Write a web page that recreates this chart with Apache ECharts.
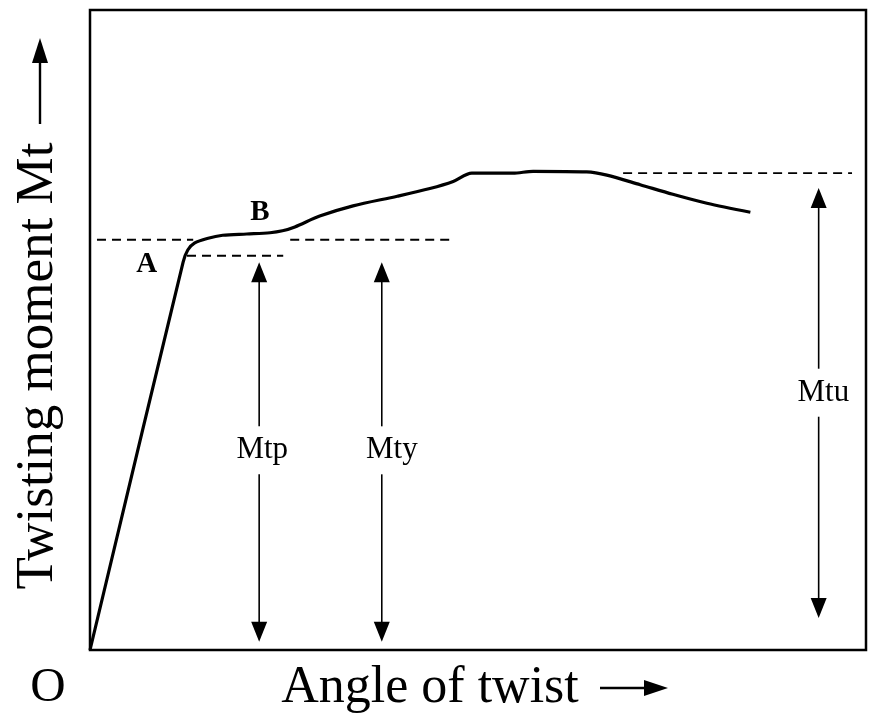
<!DOCTYPE html>
<html>
<head>
<meta charset="utf-8">
<title>Twisting moment vs angle of twist</title>
<script src="https://cdn.jsdelivr.net/npm/echarts@6/dist/echarts.min.js"></script>
<style>
  html, body { margin: 0; padding: 0; background: #fff; }
  #chart { width: 870px; height: 719px; }
</style>
</head>
<body>
<div id="chart"></div>
<script>
// Torsion test curve: angle of twist (relative units, 0-100) vs twisting moment (0-100)
const angleOfTwist = [0, 12.0, 12.6, 13.5, 15.1, 17.1, 20.2, 23.2, 24.8, 26.4, 29.6, 33.9,
  39.6, 43.8, 46.8, 49.2, 54.5, 57.1, 64.0, 66.6, 70.9, 75.1, 79.5, 85.1];
const twistingMoment = [0, 60.6, 62.5, 63.6, 64.3, 64.8, 65.0, 65.2, 65.5, 66.1, 67.8, 69.4,
  70.9, 72.1, 73.2, 74.5, 74.5, 74.8, 74.7, 74.2, 72.7, 71.2, 69.8, 68.4];

// Reference moment levels
const levelMty = 64.1;
const levelMtp = 61.6;
const levelMtu = 74.5;

// Dashed guide lines: [x start, x end, level]
const guideStart = [0.9, 25.8, 12.5, 68.7];
const guideEnd = [13.3, 47.0, 24.9, 98.2];
const guideLevel = [levelMty, levelMty, levelMtp, levelMtu];

// Dimension arrows: name, x position, top tip, bottom tip, label x, label y
const dimNames = ['Mtp', 'Mty', 'Mtu'];
const dimX = [21.8, 37.6, 93.9];
const dimTop = [60.6, 60.6, 72.2];
const dimBottom = [1.3, 1.3, 5.0];
const dimLabelX = [22.2, 38.9, 94.5];
const dimLabelY = [31.2, 31.2, 40.2];

// Point labels on the curve
const pointNames = ['A', 'B'];
const pointX = [7.3, 21.9];
const pointY = [60.2, 68.3];

const serif = '"Liberation Serif", "Times New Roman", serif';

const curveData = angleOfTwist.map((a, i) => [a, twistingMoment[i]]);
const guideData = guideStart.map((s, i) => [s, guideEnd[i], guideLevel[i]]);
const dimData = dimX.map((x, i) => [x, dimTop[i], dimBottom[i], dimLabelX[i], dimLabelY[i]]);
const pointData = pointX.map((x, i) => [x, pointY[i]]);

const chart = echarts.init(document.getElementById('chart'), null, { renderer: 'canvas' });

chart.setOption({
  backgroundColor: '#fff',
  animation: false,
  grid: {
    left: 90, top: 10, width: 776, height: 640,
    show: true, borderColor: '#000', borderWidth: 2.5, backgroundColor: 'transparent'
  },
  xAxis: {
    type: 'value', min: 0, max: 100,
    axisLine: { show: false }, axisTick: { show: false },
    axisLabel: { show: false }, splitLine: { show: false }
  },
  yAxis: {
    type: 'value', min: 0, max: 100,
    axisLine: { show: false }, axisTick: { show: false },
    axisLabel: { show: false }, splitLine: { show: false }
  },
  series: [
    {
      name: 'Twisting moment',
      type: 'line',
      data: curveData,
      smooth: 0.3,
      symbol: 'none',
      lineStyle: { color: '#000', width: 3.2 },
      z: 5
    },
    {
      name: 'Levels',
      type: 'custom',
      data: guideData,
      renderItem(params, api) {
        const p1 = api.coord([api.value(0), api.value(2)]);
        const p2 = api.coord([api.value(1), api.value(2)]);
        return {
          type: 'line',
          shape: { x1: p1[0], y1: p1[1], x2: p2[0], y2: p2[1] },
          style: { stroke: '#000', lineWidth: 1.8, lineDash: [9, 6] }
        };
      },
      z: 3
    },
    {
      name: 'Dimensions',
      type: 'custom',
      data: dimData,
      renderItem(params, api) {
        const x = api.value(0);
        const pTop = api.coord([x, api.value(1)]);
        const pBot = api.coord([x, api.value(2)]);
        const pLab = api.coord([api.value(3), api.value(4)]);
        const head = 20, half = 8, gap = 24;
        const px = pTop[0];
        return {
          type: 'group',
          children: [
            {
              type: 'line',
              shape: { x1: px, y1: pTop[1] + head - 2, x2: px, y2: pLab[1] - gap },
              style: { stroke: '#000', lineWidth: 1.6 }
            },
            {
              type: 'line',
              shape: { x1: px, y1: pLab[1] + gap, x2: px, y2: pBot[1] - head + 2 },
              style: { stroke: '#000', lineWidth: 1.6 }
            },
            {
              type: 'polygon',
              shape: { points: [[px, pTop[1]], [px - half, pTop[1] + head], [px + half, pTop[1] + head]] },
              style: { fill: '#000' }
            },
            {
              type: 'polygon',
              shape: { points: [[px, pBot[1]], [px - half, pBot[1] - head], [px + half, pBot[1] - head]] },
              style: { fill: '#000' }
            },
            {
              type: 'text',
              style: {
                text: dimNames[params.dataIndex],
                x: pLab[0], y: pLab[1],
                font: '31px ' + serif,
                fill: '#000', align: 'center', verticalAlign: 'middle'
              }
            }
          ]
        };
      },
      z: 4
    },
    {
      name: 'Points',
      type: 'custom',
      data: pointData,
      renderItem(params, api) {
        const p = api.coord([api.value(0), api.value(1)]);
        return {
          type: 'text',
          style: {
            text: pointNames[params.dataIndex],
            x: p[0], y: p[1],
            font: 'bold 29px ' + serif,
            fill: '#000', align: 'center', verticalAlign: 'middle'
          }
        };
      },
      z: 4
    }
  ],
  graphic: [
    {
      type: 'text',
      style: { text: 'O', x: 48, y: 688, font: '49px ' + serif, fill: '#000', align: 'center', verticalAlign: 'middle' }
    },
    {
      type: 'text',
      style: { text: 'Angle of twist', x: 430, y: 688, font: '52px ' + serif, fill: '#000', align: 'center', verticalAlign: 'middle' }
    },
    {
      type: 'line',
      shape: { x1: 600, y1: 688, x2: 648, y2: 688 },
      style: { stroke: '#000', lineWidth: 2.4 }
    },
    {
      type: 'polygon',
      shape: { points: [[668, 688], [644, 680], [644, 696]] },
      style: { fill: '#000' }
    },
    {
      type: 'text',
      rotation: Math.PI / 2,
      x: 38, y: 366,
      style: { text: 'Twisting moment Mt', x: 0, y: 0, font: '53px ' + serif, fill: '#000', align: 'center', verticalAlign: 'middle' }
    },
    {
      type: 'line',
      shape: { x1: 40, y1: 124, x2: 40, y2: 60 },
      style: { stroke: '#000', lineWidth: 2.4 }
    },
    {
      type: 'polygon',
      shape: { points: [[40, 38], [32, 63], [48, 63]] },
      style: { fill: '#000' }
    }
  ]
});
</script>
</body>
</html>
